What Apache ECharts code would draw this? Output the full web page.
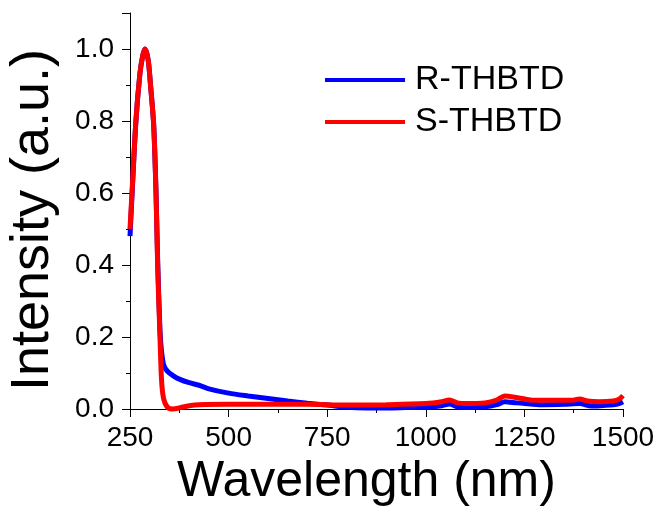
<!DOCTYPE html>
<html>
<head>
<meta charset="utf-8">
<script src="https://cdn.jsdelivr.net/npm/echarts@6/dist/echarts.min.js"></script>
<style>html,body{margin:0;padding:0;background:#fff;}#chart{width:662px;height:508px;}</style>
</head>
<body>
<div id="chart"></div>
<script>
var seriesNames = ['R-THBTD', 'S-THBTD'];
var xTicks = [250, 500, 750, 1000, 1250, 1500];
var yTicks = [0.0, 0.2, 0.4, 0.6, 0.8, 1.0];

var rWavelength = [250, 255, 265, 275, 282, 288, 296, 302, 310, 316, 320, 326, 330, 336, 345, 360, 375, 400, 425, 450, 500, 550, 600, 650, 700, 750, 800, 850, 900, 950, 1000, 1040, 1060, 1080, 1100, 1150, 1180, 1200, 1230, 1265, 1300, 1350, 1390, 1420, 1450, 1475, 1490, 1500];
var rIntensity = [0.48, 0.59, 0.80, 0.93, 0.98, 1.00, 0.97, 0.90, 0.79, 0.60, 0.42, 0.22, 0.16, 0.12, 0.105, 0.092, 0.083, 0.073, 0.066, 0.056, 0.044, 0.036, 0.029, 0.022, 0.016, 0.011, 0.005, 0.003, 0.003, 0.004, 0.005, 0.009, 0.014, 0.006, 0.004, 0.006, 0.012, 0.020, 0.017, 0.014, 0.012, 0.013, 0.015, 0.008, 0.010, 0.012, 0.015, 0.020];

var sWavelength = [250, 255, 265, 275, 282, 288, 296, 302, 310, 316, 320, 326, 330, 335, 345, 360, 375, 400, 425, 500, 600, 700, 800, 900, 1000, 1040, 1060, 1080, 1100, 1150, 1180, 1200, 1230, 1265, 1300, 1350, 1370, 1390, 1410, 1440, 1475, 1490, 1500];
var sIntensity = [0.50, 0.60, 0.80, 0.93, 0.98, 1.00, 0.97, 0.90, 0.79, 0.60, 0.40, 0.20, 0.08, 0.03, 0.005, 0.0, 0.003, 0.009, 0.012, 0.013, 0.013, 0.013, 0.011, 0.012, 0.015, 0.020, 0.025, 0.017, 0.015, 0.017, 0.025, 0.036, 0.032, 0.025, 0.024, 0.024, 0.024, 0.028, 0.022, 0.020, 0.022, 0.027, 0.037];

function pairs(xs, ys) { return xs.map(function (x, i) { return [x, ys[i]]; }); }

var FONT = 'Liberation Sans, Arial, sans-serif';
var chart = echarts.init(document.getElementById('chart'));
chart.setOption({
  animation: false,
  backgroundColor: '#ffffff',
  grid: { left: 130, right: 39, top: 13, bottom: 99, containLabel: false, outerBoundsMode: 'none' },
  legend: {
    orient: 'vertical', left: 325, top: 63, padding: 0,
    icon: 'rect', itemWidth: 80, itemHeight: 4, itemGap: 8,
    data: seriesNames,
    textStyle: { fontFamily: FONT, fontSize: 34, color: '#000', lineHeight: 34, padding: [0, 0, 0, 5] }
  },
  xAxis: {
    type: 'value', min: xTicks[0], max: xTicks[xTicks.length - 1], interval: 250,
    name: 'Wavelength (nm)', nameLocation: 'middle', nameGap: 42,
    nameTextStyle: { fontFamily: FONT, fontSize: 50, color: '#000', padding: [0, 20, 0, 0] },
    axisLine: { show: true, onZero: false, lineStyle: { color: '#000', width: 1 } },
    axisTick: { show: true, inside: false, length: 8, lineStyle: { color: '#000', width: 1 } },
    minorTick: { show: true, splitNumber: 2, length: 4, lineStyle: { color: '#000', width: 1 } },
    axisLabel: { fontFamily: FONT, fontSize: 28, color: '#000', margin: 15,
      formatter: function (v) { return String(v); } },
    splitLine: { show: false }
  },
  yAxis: {
    type: 'value', min: 0, max: 1.1, interval: 0.2,
    name: 'Intensity (a.u.)', nameLocation: 'middle', nameGap: 70,
    nameTextStyle: { fontFamily: FONT, fontSize: 54, color: '#000', padding: [0, 18, 0, 0] },
    axisLine: { show: true, onZero: false, lineStyle: { color: '#000', width: 1 } },
    axisTick: { show: true, inside: false, length: 8, lineStyle: { color: '#000', width: 1 } },
    minorTick: { show: true, splitNumber: 2, length: 4, lineStyle: { color: '#000', width: 1 } },
    axisLabel: { fontFamily: FONT, fontSize: 28, color: '#000', margin: 16, showMaxLabel: false,
      formatter: function (v) { return v.toFixed(1); } },
    splitLine: { show: false }
  },
  series: [
    { name: seriesNames[0], type: 'line', data: pairs(rWavelength, rIntensity), showSymbol: false, symbol: 'none',
      smooth: 0.3, lineStyle: { color: '#0000ff', width: 5 }, itemStyle: { color: '#0000ff' }, clip: false },
    { name: seriesNames[1], type: 'line', data: pairs(sWavelength, sIntensity), showSymbol: false, symbol: 'none',
      smooth: 0.3, lineStyle: { color: '#ff0000', width: 5 }, itemStyle: { color: '#ff0000' }, clip: false }
  ]
});
</script>
</body>
</html>
